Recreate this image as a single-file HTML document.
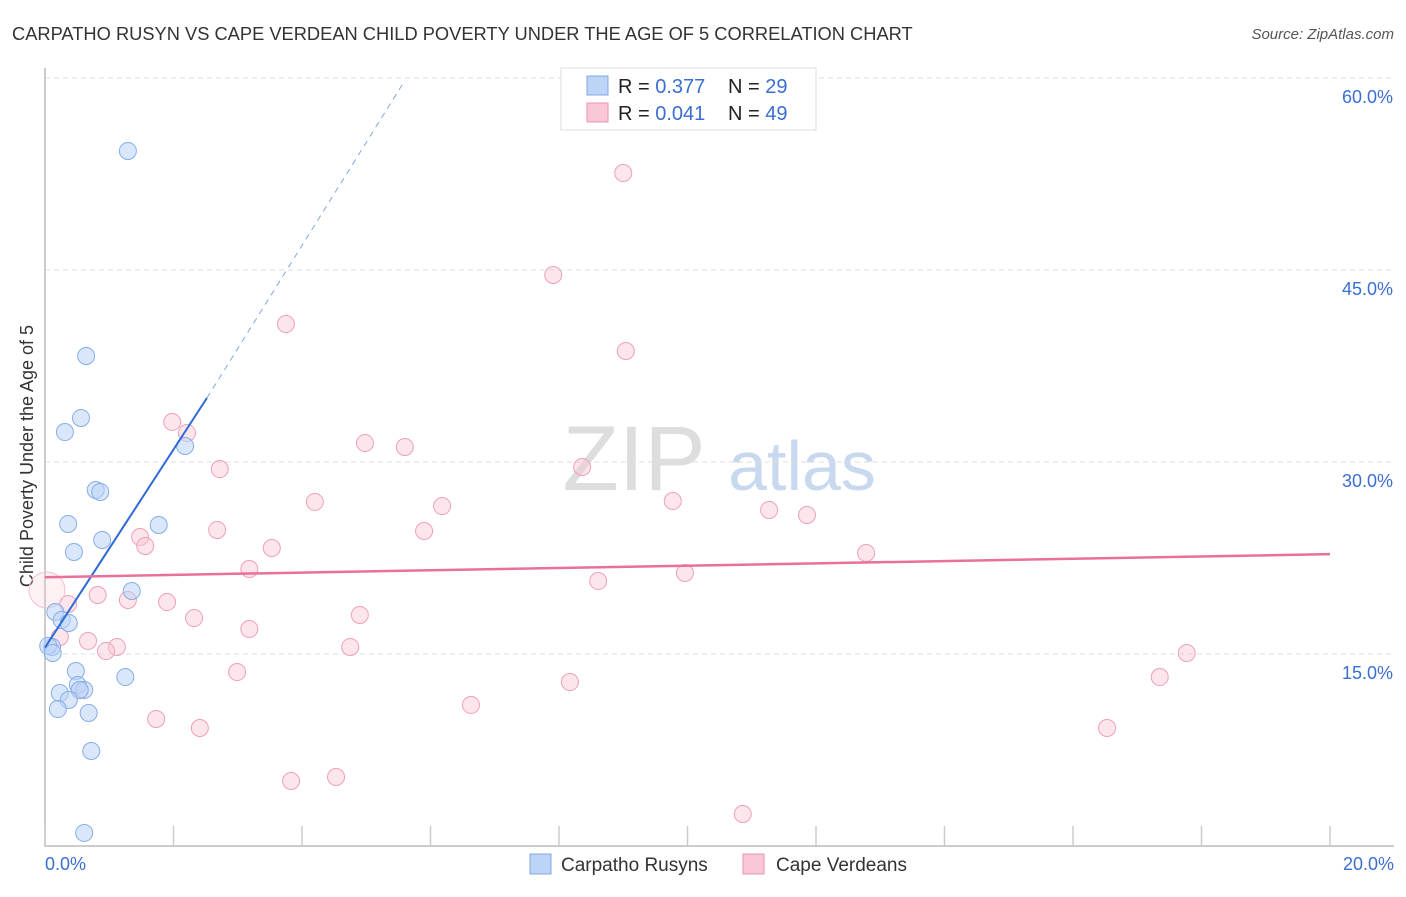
<!DOCTYPE html>
<html><head><meta charset="utf-8"><style>
body{margin:0;background:#fff;font-family:"Liberation Sans",sans-serif;}
svg text{font-family:"Liberation Sans",sans-serif;}
</style></head><body>
<svg id="chart" width="1406" height="892" xmlns="http://www.w3.org/2000/svg">
<text x="12" y="40" font-size="18.3" fill="#333">CARPATHO RUSYN VS CAPE VERDEAN CHILD POVERTY UNDER THE AGE OF 5 CORRELATION CHART</text>
<text x="1394" y="39" font-size="15" fill="#555" font-style="italic" text-anchor="end">Source: ZipAtlas.com</text>
<text transform="translate(33,456) rotate(-90)" font-size="18" fill="#333" text-anchor="middle">Child Poverty Under the Age of 5</text>
<g>
<text x="634" y="490" font-size="92" font-family="Liberation Serif" fill="#ddd" text-anchor="middle">ZIP</text>
<text x="802" y="490" font-size="70" fill="#c8d9ef" text-anchor="middle">atlas</text>
</g>
<g id="grid"></g>
<g id="axes"></g>
<g id="marks"></g>
<g>
<rect x="561" y="68" width="255" height="62" fill="#fff" stroke="#ddd"/>
<rect x="587" y="76" width="21" height="19" fill="#bcd4f6" stroke="#7ea8e6"/>
<rect x="587" y="103" width="21" height="19" fill="#f9c7d5" stroke="#ee93ae"/>
<text x="618" y="93" font-size="20" fill="#222">R = <tspan fill="#3a6fd1">0.377</tspan><tspan x="728">N = </tspan><tspan fill="#3a6fd1">29</tspan></text>
<text x="618" y="120" font-size="20" fill="#222">R = <tspan fill="#3a6fd1">0.041</tspan><tspan x="728">N = </tspan><tspan fill="#3a6fd1">49</tspan></text>
</g>
<g>
<rect x="530" y="854" width="21" height="20" fill="#bcd4f6" stroke="#7ea8e6"/>
<text x="561" y="871" font-size="19" fill="#333">Carpatho Rusyns</text>
<rect x="743" y="854" width="21" height="20" fill="#f9c7d5" stroke="#ee93ae"/>
<text x="776" y="871" font-size="19" fill="#333">Cape Verdeans</text>
</g>
</svg>
<script>
const blueX=[1.29,0.64,0.56,0.31,2.18,0.79,0.86,0.36,1.77,0.45,0.89,1.35,0.16,0.26,0.37,0.11,0.05,0.12,0.48,1.25,0.51,0.61,0.23,0.54,0.37,0.2,0.68,0.72,0.61];
const blueY=[54.3,38.28,33.44,32.34,31.25,27.81,27.66,25.16,25.08,22.97,23.91,19.92,18.28,17.66,17.42,15.55,15.63,15.08,13.67,13.2,12.58,12.19,11.95,12.19,11.41,10.7,10.39,7.42,1.02];
const pinkX=[9.0,7.91,3.75,9.04,1.98,2.21,4.98,5.6,2.72,8.36,4.2,6.18,9.77,11.27,11.86,2.68,5.9,1.48,1.56,3.53,12.78,3.18,9.96,8.61,0.82,1.29,1.9,0.36,0.03,2.32,4.9,3.18,0.23,0.67,1.12,0.95,4.75,17.77,2.99,17.35,8.17,6.63,1.73,2.41,16.53,3.83,4.53,10.86,0.54];
const pinkY=[52.58,44.61,40.78,38.67,33.13,32.27,31.48,31.17,29.45,29.61,26.88,26.56,26.95,26.25,25.86,24.69,24.61,24.14,23.44,23.28,22.89,21.64,21.33,20.7,19.61,19.22,19.06,18.91,20.0,17.81,18.05,16.95,16.33,16.02,15.55,15.23,15.55,15.08,13.59,13.2,12.81,11.02,9.92,9.22,9.22,5.08,5.39,2.5,12.19];
const pinkBig=[0,0,0,0,0,0,0,0,0,0,0,0,0,0,0,0,0,0,0,0,0,0,0,0,0,0,0,0,1,0,0,0,0,0,0,0,0,0,0,0,0,0,0,0,0,0,0,0,0];
const yTicks=[15,30,45,60];
const yTickLabels=["15.0%","30.0%","45.0%","60.0%"];
const xTicks=[0,2,4,6,8,10,12,14,16,18,20];
const blueTrend=[[0,15.5],[2.52,35.0]];
const blueTrendDash=[[2.52,35.0],[5.6,59.8]];
const pinkTrend=[[0,21.0],[20,22.8]];
const NS="http://www.w3.org/2000/svg";
const sx=v=>45+v*64.25, sy=v=>846-v*12.8;
function mk(parent,tag,attrs){const e=document.createElementNS(NS,tag);for(const k in attrs)e.setAttribute(k,attrs[k]);document.getElementById(parent).appendChild(e);return e;}
yTicks.forEach((t,i)=>{
 const l=mk('grid','line',{x1:45,x2:1394,y1:sy(t),y2:sy(t),stroke:'#ddd','stroke-dasharray':'5,4'});
 
 
 const tx=mk('grid','text',{x:1393,y:sy(t)+25,'font-size':18,fill:'#3a6fd1','text-anchor':'end'});
 tx.textContent=yTickLabels[i];
 
 
});
const ax=mk('axes','path',{d:'M45,68V846H1394',fill:'none',stroke:'#bbb','stroke-width':1.5});


xTicks.forEach(t=>{
 const l=mk('axes','line',{x1:sx(t),x2:sx(t),y1:826,y2:846,stroke:'#ccc','stroke-width':1.5});
 
 
});
const x0=mk('axes','text',{x:45,y:870,'font-size':18,fill:'#3a6fd1'});x0.textContent='0.0%';


const x1=mk('axes','text',{x:1394,y:870,'font-size':18,fill:'#3a6fd1','text-anchor':'end'});x1.textContent='20.0%';


pinkX.forEach((x,i)=>{
 const big=pinkBig[i];
 const c=mk('marks','circle',{cx:sx(x),cy:sy(pinkY[i]),r:big?18:8.5,fill:big?'rgba(249,199,213,0.25)':'rgba(249,199,213,0.45)',stroke:big?'#f4c0d0':'#eea0b8','stroke-width':1});
 
 
});
blueX.forEach((x,i)=>{
 const c=mk('marks','circle',{cx:sx(x),cy:sy(blueY[i]),r:8.5,fill:'rgba(188,212,246,0.55)',stroke:'#86aee8','stroke-width':1});
 
 
});
const bl=mk('marks','line',{x1:sx(blueTrend[0][0]),y1:sy(blueTrend[0][1]),x2:sx(blueTrend[1][0]),y2:sy(blueTrend[1][1]),stroke:'#2d6ad6','stroke-width':2});


const bd=mk('marks','line',{x1:sx(blueTrendDash[0][0]),y1:sy(blueTrendDash[0][1]),x2:sx(blueTrendDash[1][0]),y2:sy(blueTrendDash[1][1]),stroke:'#7ea8e6','stroke-width':1,'stroke-dasharray':'6,5'});


const pl=mk('marks','line',{x1:sx(pinkTrend[0][0]),y1:sy(pinkTrend[0][1]),x2:sx(pinkTrend[1][0]),y2:sy(pinkTrend[1][1]),stroke:'#e8709a','stroke-width':2.5});


</script>
</body></html>
